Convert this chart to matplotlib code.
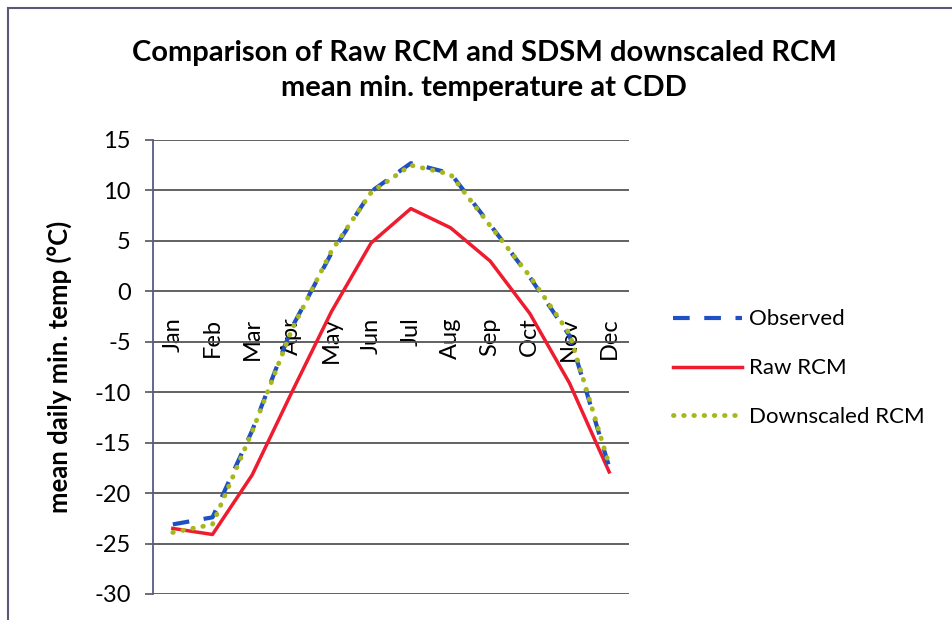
import matplotlib.pyplot as plt
from matplotlib.patches import Rectangle

months = ["Jan", "Feb", "Mar", "Apr", "May", "Jun",
          "Jul", "Aug", "Sep", "Oct", "Nov", "Dec"]
observed = [-23.1, -22.4, -13.8, -3.6, 3.8, 9.9, 12.7, 11.7, 6.6, 1.4, -4.4, -17.4]
raw_rcm = [-23.5, -24.1, -18.2, -10.0, -2.0, 4.8, 8.2, 6.3, 3.0, -2.2, -9.1, -17.9]
downscaled = [-23.9, -23.1, -13.9, -3.8, 4.0, 9.8, 12.5, 11.6, 6.5, 1.5, -4.2, -17.2]

plt.rcParams['font.family'] = ['Lato', 'DejaVu Sans']
plt.rcParams['axes.unicode_minus'] = False

fig = plt.figure(figsize=(9.53, 6.2), dpi=100)
# outer chart frame
fig.patches.append(Rectangle((8 / 953, -0.1), 1.2, (612 / 620) + 0.1,
                             transform=fig.transFigure, fill=False,
                             edgecolor="#5a5a78", linewidth=1.5))

ax = fig.add_axes([153 / 953, 26 / 620, 476 / 953, 454 / 620])
x = list(range(len(months)))

ax.plot(x, raw_rcm, color="#ee1c2e", linewidth=2.5, label="Raw RCM", zorder=3)
ax.plot(x, observed, color="#1f4fc4", linewidth=3, linestyle=(0, (4, 3.5)),
        label="Observed", zorder=4)
ax.plot(x, downscaled, color="#a8b81c", linewidth=3.5, linestyle=(0, (0.1, 2)),
        dash_capstyle="round", label="Downscaled RCM", zorder=5)

ax.set_xlim(-0.5, 11.5)
ax.set_ylim(-30, 15)
ax.set_yticks(range(-30, 16, 5))
ax.tick_params(axis="y", labelsize=17, length=6, width=1.2, color="#555555", pad=10)
ax.grid(axis="y", color="#555555", linewidth=1.3)
ax.set_axisbelow(True)

# month labels sit on the zero line
ax.spines["bottom"].set_position(("data", 0))
ax.spines["bottom"].set_visible(False)
ax.set_xticks(x)
ax.set_xticklabels(months, rotation=90, fontsize=17)
ax.tick_params(axis="x", length=0, pad=19)

for side in ["top", "right"]:
    ax.spines[side].set_visible(False)
ax.spines["left"].set_color("#5a5a80")
ax.spines["left"].set_linewidth(1.3)

ax.set_ylabel("mean daily min. temp (°C)", fontsize=18.5, fontweight="bold", labelpad=16)

fig.text(0.508, 0.886, "Comparison of Raw RCM and SDSM downscaled RCM\nmean min. temperature at CDD",
         ha="center", va="center", fontsize=21, fontweight="bold", linespacing=1.45)

handles, labels = ax.get_legend_handles_labels()
order = [1, 0, 2]
ax.legend([handles[i] for i in order], [labels[i] for i in order],
          loc="center left", bbox_to_anchor=(1.05, 0.497), frameon=False,
          fontsize=16, handlelength=3.1, labelspacing=1.3, handletextpad=0.35)

fig.savefig("out.png", dpi=100)
